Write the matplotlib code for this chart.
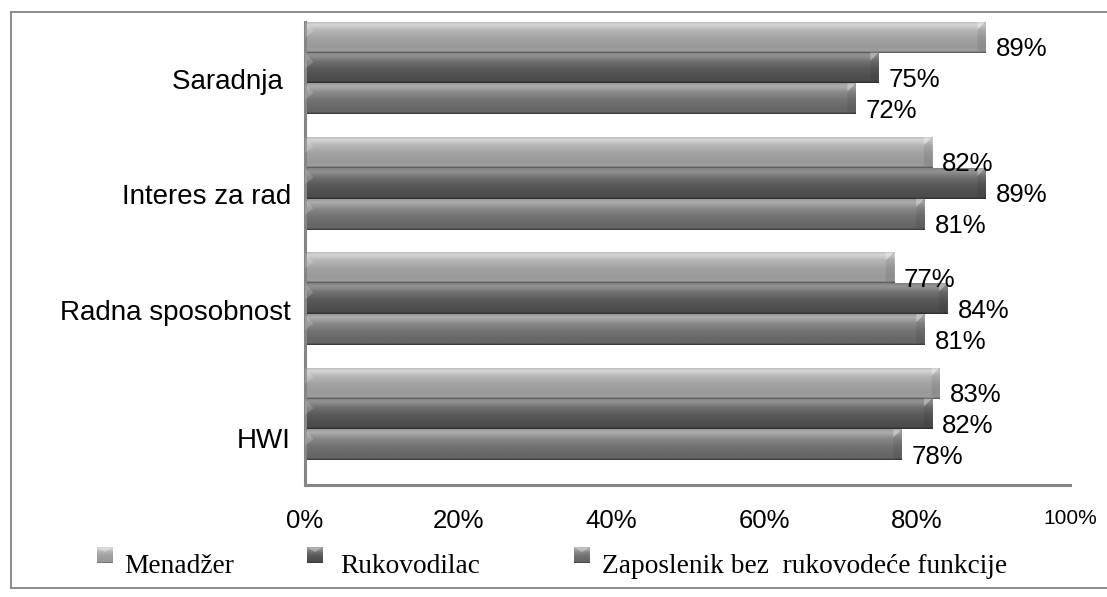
import numpy as np
import matplotlib
matplotlib.use("Agg")
import matplotlib.pyplot as plt
from matplotlib.lines import Line2D
from matplotlib.patches import Polygon
from matplotlib import transforms

# survey results (percent) per category, top to bottom
categories = ["Saradnja ", "Interes za rad", "Radna sposobnost", "HWI"]
series_names = ["Menadžer", "Rukovodilac", "Zaposlenik bez  rukovodeće funkcije"]
menadzer = [89, 82, 77, 83]
rukovodilac = [75, 89, 84, 82]
zaposlenik = [72, 81, 81, 78]
x_ticks = [0, 20, 40, 60, 80, 100]

# vertical shading profiles (position from top, gray level) for each series
profiles = [
    [(0.0, 0.74), (0.08, 0.84), (0.25, 0.72), (0.5, 0.64), (0.8, 0.60), (0.94, 0.62), (1.0, 0.32)],
    [(0.0, 0.50), (0.10, 0.58), (0.30, 0.44), (0.55, 0.35), (0.85, 0.30), (0.94, 0.30), (1.0, 0.17)],
    [(0.0, 0.60), (0.10, 0.68), (0.30, 0.54), (0.55, 0.45), (0.85, 0.40), (0.94, 0.40), (1.0, 0.21)],
]

W, H = 1107, 597
fig = plt.figure(figsize=(W / 100, H / 100), dpi=100)
plt.rcParams["font.family"] = ["Liberation Sans", "DejaVu Sans"]

ax = fig.add_axes([305 / W, 1 - 485 / H, (1070 - 305) / W, (485 - 22) / H])


def gradient(profile, n=64):
    t = np.linspace(0, 1, n)
    pos, val = zip(*profile)
    g = np.interp(t, pos, val)
    return np.repeat(g[:, None], 2, axis=1)


bar_h = 0.268
ypos = np.arange(len(categories))[::-1]
series = [menadzer, rukovodilac, zaposlenik]
offsets = [bar_h, 0, -bar_h]

dx = 1.1   # bevel width in data units
dy = 0.07  # bevel height in data units

for vals, off, prof in zip(series, offsets, profiles):
    bars = ax.barh(ypos + off, vals, height=bar_h, color="#999999", linewidth=0)
    grad = gradient(prof)
    for b, v in zip(bars, vals):
        x0, y0 = b.get_x(), b.get_y()
        x1, y1 = x0 + b.get_width(), y0 + b.get_height()
        im = ax.imshow(grad, cmap="gray", vmin=0, vmax=1, aspect="auto",
                       extent=(x0, x1, y0, y1), interpolation="bilinear", zorder=2)
        im.set_clip_path(b)
        # right end facet with a light chamfer on top
        ax.add_patch(Polygon([(x1 - dx, y1 - dy), (x1, y1), (x1, y0), (x1 - dx, y0 + dy * 0.3)],
                             closed=True, color="black", alpha=0.08, lw=0, zorder=3))
        ax.add_patch(Polygon([(x1 - dx, y1), (x1, y1), (x1 - dx, y1 - dy)],
                             closed=True, color="white", alpha=0.3, lw=0, zorder=3))
        # left end chamfer
        ax.add_patch(Polygon([(x0, y1), (x0 + dx, y1 - 1.2 * dy), (x0, y1 - 2 * dy)],
                             closed=True, color="white", alpha=0.18, lw=0, zorder=3))
        ax.annotate(f"{v}%", xy=(x1, y0 + b.get_height() / 2), xytext=(10, -12),
                    textcoords="offset pixels", ha="left", va="center",
                    fontsize=18.5, color="black", zorder=5)

ax.set_xlim(0, 100)
ax.set_ylim(-0.616, 3.399)

ax.set_xticks(x_ticks)
ax.set_xticklabels([f"{t}%" for t in x_ticks], fontsize=18.5)
ax.get_xticklabels()[-1].set_fontsize(15)
ax.set_yticks(ypos)
ax.set_yticklabels(categories, fontsize=20)
ax.tick_params(axis="x", length=0, pad=17)
ax.tick_params(axis="y", length=0, pad=10)

# category labels sit a little below their bar groups
for lab in ax.get_yticklabels():
    shift = -17 if lab.get_text() == "HWI" else -8
    lab.set_transform(lab.get_transform() + transforms.ScaledTranslation(0, shift / 72, fig.dpi_scale_trans))

for side in ["top", "right"]:
    ax.spines[side].set_visible(False)
for side in ["left", "bottom"]:
    ax.spines[side].set_color("#858585")
    ax.spines[side].set_linewidth(2.2)
ax.set_facecolor("none")

# outer frame (open on the right)
frame = dict(color="#8c8c8c", lw=1.4, transform=fig.transFigure)
fig.add_artist(Line2D([11 / W, 1], [1 - 12 / H, 1 - 12 / H], **frame))
fig.add_artist(Line2D([11 / W, 11 / W], [1 - 12 / H, 1 - 588 / H], **frame))
fig.add_artist(Line2D([11 / W, 1], [1 - 588 / H, 1 - 588 / H], **frame))

# legend with small shaded squares
marker_x = [97, 307, 574]
text_x = [124, 340, 602]
for name, mx, tx, prof in zip(series_names, marker_x, text_x, profiles):
    max_ = fig.add_axes([mx / W, 1 - 563 / H, 16 / W, 16 / H])
    max_.imshow(gradient(prof), cmap="gray", vmin=0, vmax=1, aspect="auto",
                interpolation="bilinear")
    max_.add_patch(Polygon([(-0.5, -0.5), (1.5, -0.5), (0.5, 20)], closed=True,
                           color="white", alpha=0.3, lw=0))
    max_.set_axis_off()
    fig.text(tx / W, 1 - 573 / H, name, fontsize=19.7, va="baseline", ha="left",
             family=["Liberation Serif", "DejaVu Serif"])

fig.savefig("out.png", dpi=100)
